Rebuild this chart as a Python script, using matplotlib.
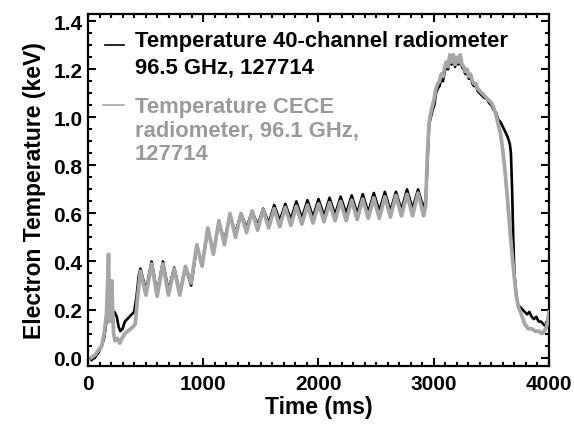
import numpy as np
import matplotlib
matplotlib.use("Agg")
import matplotlib.pyplot as plt
from matplotlib.ticker import MultipleLocator

plt.rcParams['font.family'] = ['Liberation Sans', 'DejaVu Sans']
plt.rcParams['font.weight'] = 'bold'

# sawteeth during the ramp: peak / trough times (ms)
peak_t = [455, 552, 650, 748, 846, 944, 1040, 1136, 1232, 1328, 1424, 1520, 1616,
          1712, 1808, 1904, 2000, 2096, 2192, 2288, 2384, 2480, 2576, 2672, 2768, 2864]
trough_t = [503, 600, 698, 796, 895, 990, 1088, 1184, 1280, 1376, 1472, 1568, 1664,
            1760, 1856, 1952, 2048, 2144, 2240, 2336, 2432, 2528, 2624, 2720, 2816, 2912]

# 40-channel radiometer (keV)
ece_peak = [0.37, 0.40, 0.40, 0.375, 0.375, 0.46, 0.53, 0.56, 0.59, 0.60, 0.61, 0.62, 0.635,
            0.64, 0.65, 0.655, 0.66, 0.665, 0.67, 0.675, 0.68, 0.685, 0.69, 0.69, 0.70, 0.70]
ece_trough = [0.28, 0.27, 0.28, 0.27, 0.30, 0.39, 0.44, 0.49, 0.52, 0.54, 0.55, 0.56, 0.57,
              0.575, 0.58, 0.585, 0.59, 0.595, 0.60, 0.60, 0.605, 0.61, 0.61, 0.615, 0.62, 0.62]
ece_start_t = [30, 60, 90, 120, 140, 160, 175, 190, 200, 215, 230, 250, 265, 280, 300,
               320, 340, 360, 380, 400, 420, 440]
ece_start = [-0.01, 0.0, 0.02, 0.05, 0.08, 0.15, 0.22, 0.20, 0.23, 0.17, 0.19, 0.17, 0.13,
             0.11, 0.12, 0.15, 0.16, 0.17, 0.18, 0.19, 0.25, 0.34]
ece_end_t = [2930, 2945, 2960, 2975, 2990, 3005, 3020, 3035, 3050, 3065, 3080, 3095, 3110,
             3125, 3140, 3155, 3170, 3185, 3200, 3215, 3230, 3245, 3260, 3275, 3290, 3305,
             3320, 3335, 3350, 3365, 3380, 3400, 3420, 3440, 3460, 3480, 3500, 3520, 3540,
             3560, 3580, 3600, 3620, 3640, 3660, 3670, 3680, 3690, 3700, 3715, 3730, 3750,
             3770, 3790, 3810, 3830, 3850, 3870, 3890, 3910, 3930, 3950, 3970, 3985, 4000]
ece_end = [0.66, 0.80, 0.97, 1.00, 1.03, 1.05, 1.10, 1.12, 1.13, 1.16, 1.15, 1.19, 1.21,
           1.20, 1.24, 1.22, 1.25, 1.21, 1.24, 1.22, 1.25, 1.21, 1.20, 1.18, 1.19, 1.16,
           1.17, 1.14, 1.13, 1.14, 1.11, 1.10, 1.09, 1.08, 1.08, 1.06, 1.05, 1.03, 1.02,
           0.99, 0.98, 0.96, 0.94, 0.92, 0.89, 0.85, 0.70, 0.50, 0.35, 0.27, 0.22, 0.21,
           0.20, 0.19, 0.18, 0.19, 0.17, 0.16, 0.17, 0.15, 0.15, 0.14, 0.13, 0.15, 0.17]

# CECE radiometer (keV)
cece_peak = [0.36, 0.39, 0.39, 0.37, 0.38, 0.47, 0.54, 0.57, 0.60, 0.60, 0.61, 0.615, 0.62,
             0.625, 0.63, 0.635, 0.64, 0.645, 0.65, 0.655, 0.66, 0.665, 0.67, 0.675, 0.68, 0.685]
cece_trough = [0.26, 0.255, 0.26, 0.26, 0.31, 0.38, 0.43, 0.47, 0.50, 0.52, 0.53, 0.54, 0.545,
               0.55, 0.555, 0.56, 0.565, 0.57, 0.57, 0.575, 0.58, 0.58, 0.585, 0.59, 0.59, 0.59]
cece_start_t = [30, 60, 90, 120, 140, 160, 170, 178, 188, 198, 206, 214, 222, 235, 255,
                275, 295, 320, 345, 370, 395, 410, 430]
cece_start = [0.0, 0.01, 0.03, 0.05, 0.10, 0.18, 0.30, 0.43, 0.15, 0.22, 0.32, 0.20, 0.10,
              0.07, 0.08, 0.06, 0.08, 0.10, 0.11, 0.12, 0.13, 0.14, 0.25]
cece_end_t = [2930, 2945, 2960, 2975, 2990, 3005, 3020, 3035, 3050, 3065, 3080, 3095, 3110,
              3125, 3140, 3155, 3170, 3185, 3200, 3215, 3230, 3245, 3260, 3275, 3290, 3305,
              3320, 3335, 3350, 3365, 3380, 3400, 3420, 3440, 3460, 3480, 3500, 3520, 3540,
              3560, 3580, 3600, 3620, 3640, 3660, 3680, 3700, 3715, 3735, 3760, 3790, 3820,
              3850, 3880, 3910, 3940, 3960, 3980, 4000]
cece_end = [0.63, 0.85, 0.98, 1.02, 1.05, 1.08, 1.12, 1.14, 1.15, 1.18, 1.17, 1.21, 1.23,
            1.21, 1.26, 1.23, 1.26, 1.22, 1.25, 1.23, 1.26, 1.22, 1.21, 1.19, 1.20, 1.17,
            1.18, 1.15, 1.14, 1.14, 1.12, 1.11, 1.10, 1.09, 1.08, 1.07, 1.06, 1.04, 1.01,
            0.97, 0.93, 0.86, 0.77, 0.66, 0.54, 0.43, 0.33, 0.26, 0.21, 0.18, 0.14, 0.12,
            0.12, 0.11, 0.11, 0.10, 0.11, 0.13, 0.19]


def series(start_t, start, pk, tr, end_t, end):
    mid_t = np.ravel(np.column_stack([peak_t, trough_t]))
    mid = np.ravel(np.column_stack([pk, tr]))
    t = np.concatenate([start_t, mid_t, end_t])
    v = np.concatenate([start, mid, end])
    return t, v


t1, te1 = series(ece_start_t, ece_start, ece_peak, ece_trough, ece_end_t, ece_end)
t2, te2 = series(cece_start_t, cece_start, cece_peak, cece_trough, cece_end_t, cece_end)

grey = '#a6a6a6'

fig = plt.figure(figsize=(5.74, 4.31), dpi=100)
ax = fig.add_axes([0.1533, 0.1485, 0.8031, 0.8167])

ax.plot(t1, te1, color='black', lw=1.9, zorder=2, solid_joinstyle='round')
ax.plot(t2, te2, color=grey, lw=2.7, zorder=3, solid_joinstyle='round')

ax.set_xlim(0, 4000)
ax.set_ylim(-0.035, 1.43)
ax.xaxis.set_major_locator(MultipleLocator(1000))
ax.xaxis.set_minor_locator(MultipleLocator(100))
ax.yaxis.set_major_locator(MultipleLocator(0.2))
ax.yaxis.set_minor_locator(MultipleLocator(0.05))
ax.yaxis.set_major_formatter(plt.FuncFormatter(lambda v, p: f'{v:.1f}'))
ax.tick_params(which='both', direction='in', top=True, right=True, width=1.5,
               labelsize=15)
ax.tick_params(which='major', length=6)
ax.tick_params(which='minor', length=3)
ax.tick_params(axis='x', pad=6)
ax.tick_params(axis='y', pad=4)
for s in ax.spines.values():
    s.set_linewidth(1.6)

ax.set_xlabel('Time (ms)', fontsize=16.5, fontweight='bold', labelpad=1)
ax.set_ylabel('Electron Temperature (keV)', fontsize=16.5, fontweight='bold', labelpad=5)

# legend entries
ax.plot([0.037, 0.078], [0.912, 0.912], transform=ax.transAxes, color='black', lw=1.2)
for y, line in zip([0.91, 0.835], ['Temperature 40-channel radiometer', '96.5 GHz, 127714']):
    ax.text(0.102, y, line, transform=ax.transAxes, fontsize=15.8, fontweight='bold',
            color='black', va='baseline')
ax.plot([0.033, 0.078], [0.7415, 0.7415], transform=ax.transAxes, color=grey, lw=1.2)
for y, line in zip([0.7216, 0.654, 0.588], ['Temperature CECE', 'radiometer, 96.1 GHz,', '127714']):
    ax.text(0.102, y, line, transform=ax.transAxes, fontsize=15.8, fontweight='bold',
            color='#9a9a9a', va='baseline')

fig.savefig('out.png', dpi=100)
